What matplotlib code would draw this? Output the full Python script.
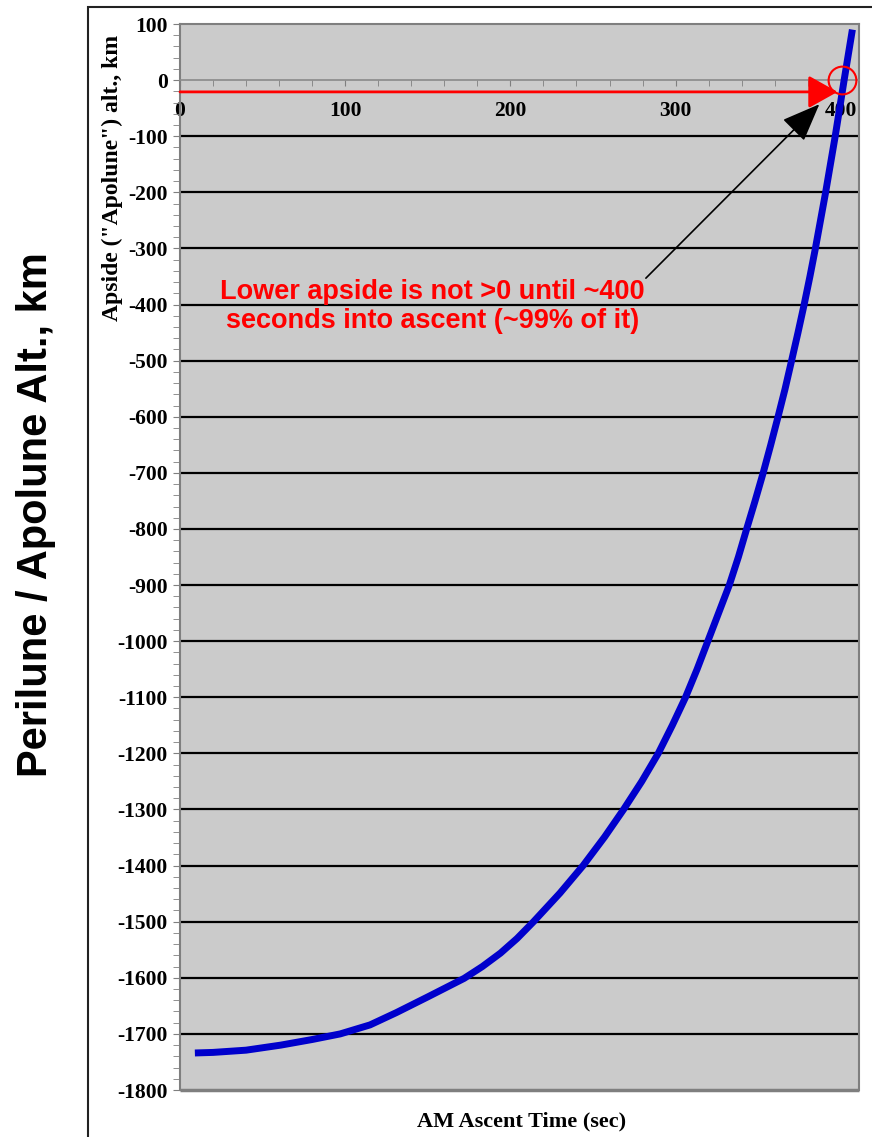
import matplotlib
matplotlib.use('Agg')
import matplotlib.pyplot as plt
from matplotlib.patches import Rectangle
from matplotlib.ticker import MultipleLocator

plt.rcParams['axes.unicode_minus'] = False

# values
ascent_time = [9, 20, 40, 61, 80, 97, 115, 131, 150, 172, 183, 194, 204, 214, 230, 244, 257,
               268.5, 279.5, 289.5, 298, 306, 313, 319.5, 326, 332.5, 338, 343, 348, 353, 357.5,
               362, 366.2, 370.2, 374, 377.8, 381.3, 384.6, 390.8, 396.6, 402, 407]
apside_alt = [-1734, -1733, -1729, -1720, -1710, -1700, -1684, -1662, -1634, -1601, -1580, -1556,
              -1530, -1500, -1449, -1400, -1349, -1300, -1250, -1200, -1150, -1100, -1050, -1000,
              -950, -900, -850, -800, -751, -700, -651, -600, -551, -500, -451, -400, -350, -300,
              -200, -100, 0, 90]
grid_levels = list(range(-1700, 0, 100))
x_ticks = [0, 100, 200, 300, 400]
y_ticks = list(range(-1800, 101, 100))

serif = ['Liberation Serif', 'DejaVu Serif']
sans = ['Liberation Sans', 'DejaVu Sans']

fig = plt.figure(figsize=(8.72, 11.37), dpi=100)
ax = fig.add_axes([180/872, 1 - 1090/1137, (859-180)/872, (1090-24)/1137])
ax.set_facecolor('#cbcbcb')
ax.set_xlim(0, 411)
ax.set_ylim(-1800, 100)

# black gridlines
ax.hlines(grid_levels, 0, 1, transform=ax.get_yaxis_transform(), colors='black', lw=1.6, zorder=1)

# the x axis sits at zero
for s in ['top', 'right', 'left']:
    ax.spines[s].set_color('#7f7f7f')
    ax.spines[s].set_linewidth(1.5)
ax.spines['bottom'].set_position(('data', 0))
ax.spines['bottom'].set_color('#8a8a8a')
ax.spines['bottom'].set_linewidth(1.2)
ax.add_patch(Rectangle((0, 0), 1, 0.0, transform=ax.transAxes, fill=False,
                       ec='#7f7f7f', lw=2.5, clip_on=False))

ax.set_xticks(x_ticks)
ax.xaxis.set_minor_locator(MultipleLocator(20))
ax.set_yticks(y_ticks)
ax.yaxis.set_minor_locator(MultipleLocator(20))
ax.tick_params(axis='x', which='both', direction='out', length=4, color='#7f7f7f', pad=11)
ax.tick_params(axis='y', which='both', direction='out', length=5, color='#7f7f7f', pad=4)
for lab in ax.get_xticklabels() + ax.get_yticklabels():
    lab.set_fontfamily(serif)
    lab.set_fontweight('bold')
    lab.set_fontsize(15.5)

ax.plot(ascent_time, apside_alt, color='#0000cc', lw=5, solid_capstyle='butt',
        solid_joinstyle='round', zorder=3)

# red arrow along the axis and circle at the crossing
ax.annotate('', xy=(398, -21), xytext=(0, -21),
            arrowprops=dict(arrowstyle='-|>,head_length=0.5,head_width=0.28', color='red',
                            lw=2, mutation_scale=36, shrinkA=0, shrinkB=0), zorder=4)
ax.plot([401], [0], marker='o', ms=20, mfc='none', mec='red', mew=1.5, zorder=5)

# black pointer
ax.annotate('', xy=(387, -43), xytext=(282, -353),
            arrowprops=dict(arrowstyle='-|>,head_length=0.6,head_width=0.24', color='black',
                            lw=1.2, mutation_scale=40, shrinkA=0, shrinkB=0), zorder=4)
ax.text(153, -403, 'Lower apside is not >0 until ~400\nseconds into ascent (~99% of it)',
        color='red', fontsize=19.5, fontweight='bold', family=sans,
        ha='center', va='center', linespacing=1.15, zorder=4)

fig.text(522/872, 1 - 1121/1137, 'AM Ascent Time (sec)', family=serif, fontweight='bold',
         fontsize=16, ha='center', va='center')
fig.text(112/872, 1 - 178/1137, 'Apside ("Apolune") alt., km', rotation=90, family=serif,
         fontweight='bold', fontsize=17, ha='center', va='center')
fig.text(36/872, 1 - 515/1137, 'Perilune / Apolune Alt., km', rotation=90, family=sans,
         fontweight='bold', fontsize=30, ha='center', va='center')

# outer frame
fig.add_artist(Rectangle((88/872, -0.05), 1.0, 1.05 - 7/1137, transform=fig.transFigure,
                         fill=False, ec='#222222', lw=1.5))

fig.savefig('out.png', dpi=100)
